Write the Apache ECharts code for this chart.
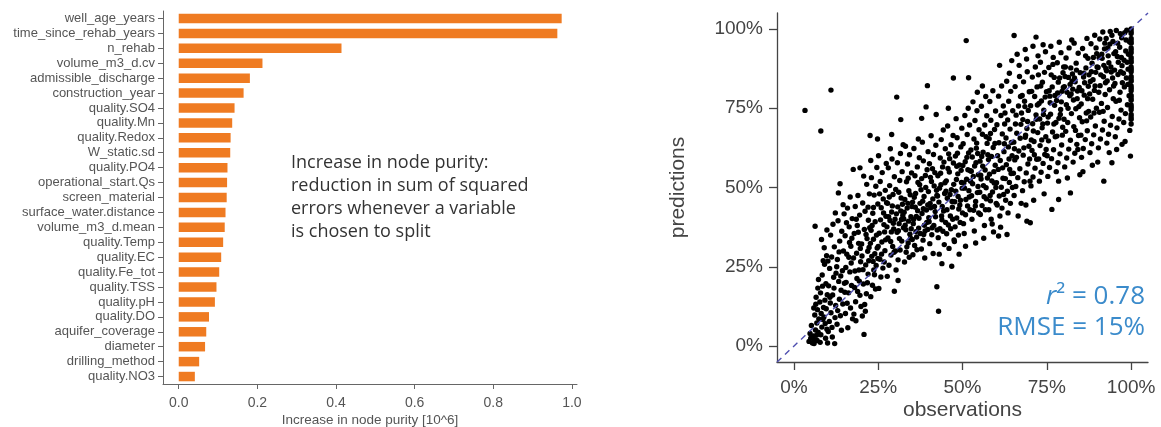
<!DOCTYPE html>
<html>
<head>
<meta charset="utf-8">
<script src="https://cdn.jsdelivr.net/npm/echarts@6/dist/echarts.min.js"></script>
<style>
html,body{margin:0;padding:0;background:#fff;}
#c{width:1161px;height:427px;}
</style>
</head>
<body>
<div id="c"></div>
<script>
// ---- left panel: variable importance ----
const categories = ['well_age_years','time_since_rehab_years','n_rehab','volume_m3_d.cv','admissible_discharge','construction_year','quality.SO4','quality.Mn','quality.Redox','W_static.sd','quality.PO4','operational_start.Qs','screen_material','surface_water.distance','volume_m3_d.mean','quality.Temp','quality.EC','quality.Fe_tot','quality.TSS','quality.pH','quality.DO','aquifer_coverage','diameter','drilling_method','quality.NO3'];
const purity = [0.974,0.963,0.414,0.213,0.181,0.165,0.142,0.136,0.132,0.131,0.124,0.123,0.122,0.119,0.117,0.113,0.108,0.103,0.096,0.092,0.077,0.070,0.067,0.052,0.041];
const purityTicks = [0,0.2,0.4,0.6,0.8,1.0];
const purityTitle = 'Increase in node purity [10^6]';
const annotationLines = ['Increase in node purity:','reduction in sum of squared','errors whenever a variable','is chosen to split'];

// ---- right panel: observations vs predictions (percent) ----
const pctTicks = [0,25,50,75,100];
const pctMin = -5, pctMax = 105;
const metricLines = ['r² = 0.78','RMSE = 15%'];
const scatterPoints = [
[3.3,74.3],[4.5,1.5],[5.0,2.5],[5.5,1.0],[4.8,4.0],[5.8,3.2],[5.2,6.5],[6.0,0.8],
[6.1,2.0],[6.4,5.1],[6.8,7.3],[6.2,9.8],[7.0,11.5],[6.5,13.2],[7.2,4.4],[6.9,1.8],[7.4,8.6],[6.6,15.4],[7.1,18.3],[6.3,37.8],[7.3,21.0],[5.9,12.0],[6.7,3.4],
[7.8,1.2],[8.0,3.6],[8.3,6.0],[8.6,8.4],[8.1,10.3],[8.8,12.2],[9.2,14.5],[7.9,16.8],[9.5,19.7],[8.4,22.4],[9.1,25.8],[9.7,28.5],[8.2,33.6],[8.0,67.8],[9.4,2.5],[9.8,5.3],[8.9,9.2],[9.6,11.8],[7.7,13.9],[9.9,16.2],[8.5,18.9],[9.3,7.1],[10.0,1.0],[9.0,31.0],[9.8,36.6],[8.7,26.9],
[10.2,4.6],[10.5,7.8],[11.0,10.5],[10.8,13.6],[11.5,16.1],[10.3,19.0],[11.8,21.7],[10.6,24.5],[11.2,28.1],[12.0,31.3],[10.9,35.0],[11.6,38.4],[12.3,42.0],[11.0,80.7],[12.2,9.0],[11.4,2.9],[12.4,12.8],[10.1,26.8],[11.9,18.3],[12.1,0.8],[10.7,15.4],[11.3,5.9],[12.5,23.0],
[12.8,6.9],[13.2,48.3],[13.7,51.2],[13.0,11.2],[13.5,14.8],[14.0,17.6],[13.3,20.4],[14.4,23.8],[12.9,27.3],[14.7,30.0],[13.6,33.1],[14.2,36.2],[13.1,39.5],[14.9,41.7],[13.8,9.6],[14.5,13.3],[12.7,25.0],[14.1,5.0],[13.4,29.7],[15.0,19.8],[14.6,44.6],[13.9,22.1],
[15.3,10.3],[15.8,13.5],[16.2,16.8],[15.5,20.1],[16.6,23.4],[17.0,26.2],[15.7,29.0],[16.9,31.5],[15.2,34.8],[16.4,37.6],[17.3,40.2],[15.9,43.5],[16.7,47.0],[17.4,8.6],[16.0,5.8],[15.4,24.8],[17.1,19.1],[16.3,28.0],[15.6,38.9],[17.2,34.0],[16.8,12.0],[15.1,17.0],[16.5,32.7],
[17.6,55.7],[19.6,56.2],[17.8,10.1],[18.3,14.0],[18.9,17.2],[19.4,20.5],[18.1,23.7],[19.8,26.6],[18.6,29.3],[19.2,32.4],[17.9,35.5],[18.8,38.0],[19.5,41.3],[18.2,44.0],[19.0,47.5],[19.9,12.5],[18.4,8.0],[17.7,27.8],[19.3,24.0],[18.7,21.3],[19.7,30.8],[18.0,18.5],[19.1,35.9],[18.5,40.0],[19.6,16.0],
[20.8,3.7],[20.3,9.5],[21.0,13.1],[21.5,16.5],[20.6,19.6],[22.0,22.7],[21.3,25.6],[20.2,28.4],[22.3,31.1],[21.7,33.9],[20.9,36.8],[22.1,39.7],[21.1,42.5],[20.4,45.1],[22.4,48.0],[21.6,51.0],[20.7,53.6],[22.2,26.9],[21.9,29.9],[20.5,24.1],[21.4,35.2],[22.5,37.3],[21.8,20.0],[20.1,32.2],[22.6,66.4],[21.2,11.0],[22.0,43.8],
[22.8,15.6],[23.3,19.2],[23.9,22.5],[24.4,25.4],[23.1,28.3],[24.7,30.9],[23.6,33.7],[22.9,36.5],[24.1,39.2],[23.4,41.9],[24.9,44.8],[23.8,47.6],[24.3,50.4],[23.0,53.1],[24.6,56.3],[24.8,65.3],[23.5,26.7],[24.0,29.1],[22.7,32.4],[24.5,35.0],[23.2,38.0],[23.7,24.0],[24.2,18.0],[23.6,43.7],[24.9,27.6],[22.8,58.5],
[25.2,18.2],[25.8,21.8],[26.4,24.6],[25.5,27.4],[27.0,30.1],[26.1,32.8],[25.3,35.6],[26.7,38.3],[27.3,40.9],[25.9,43.6],[26.5,46.4],[27.1,49.1],[25.6,51.9],[26.2,54.7],[27.4,57.6],[25.1,60.0],[26.9,36.0],[25.7,39.8],[27.2,33.5],[26.0,29.0],[26.6,42.0],[27.5,45.2],[25.4,48.0],[26.8,26.5],[25.0,31.4],
[27.7,22.0],[28.2,25.5],[28.8,28.7],[29.3,31.4],[27.9,34.1],[29.6,36.9],[28.5,39.6],[29.0,42.3],[27.8,45.0],[29.4,47.8],[28.4,50.6],[29.8,53.4],[28.0,56.2],[29.1,59.0],[28.6,62.2],[29.0,66.7],[29.8,17.3],[28.9,36.0],[29.5,38.7],[28.1,40.8],[29.2,44.2],[27.6,37.6],[28.7,33.0],[30.0,40.0],[28.3,47.0],[29.7,29.6],
[30.5,78.5],[31.7,71.4],[30.3,24.0],[30.9,27.2],[31.5,30.3],[32.0,33.1],[30.6,35.9],[31.2,38.6],[32.3,41.2],[30.8,43.9],[31.8,46.7],[30.2,49.4],[31.4,52.2],[32.1,55.0],[30.7,57.8],[31.6,60.7],[32.4,63.5],[31.0,36.4],[31.9,39.9],[30.4,41.7],[32.2,44.7],[31.3,33.9],[30.1,30.0],[32.5,37.3],[31.1,48.5],[30.9,20.7],[31.7,42.6],
[32.8,26.5],[33.3,29.6],[33.9,32.5],[34.4,35.3],[33.0,38.1],[34.7,40.8],[33.6,43.5],[32.9,46.2],[34.1,49.0],[33.4,51.8],[34.9,54.6],[33.7,57.4],[34.3,60.3],[33.1,63.0],[34.6,34.0],[33.2,36.7],[34.0,39.4],[32.7,42.2],[33.8,45.0],[34.5,47.7],[33.5,31.3],[34.8,37.0],[32.6,40.1],[34.2,28.0],[33.9,52.9],[35.0,44.0],
[35.3,28.8],[35.8,31.7],[36.4,34.4],[37.0,37.2],[35.5,39.9],[36.7,42.7],[35.2,45.4],[36.1,48.1],[37.3,50.9],[35.9,53.7],[36.6,56.5],[37.2,59.4],[35.6,62.3],[36.9,65.3],[37.9,71.8],[36.2,36.1],[35.4,38.6],[37.1,40.3],[36.0,43.8],[35.7,46.9],[37.4,45.0],[36.5,30.4],[35.1,33.6],[36.8,51.6],[37.5,35.5],[36.3,40.9],
[37.8,30.6],[38.3,33.4],[38.9,36.3],[39.4,39.0],[38.0,41.8],[39.7,44.5],[38.6,47.2],[39.1,50.0],[37.9,52.8],[39.5,55.6],[38.4,58.4],[39.8,61.3],[38.1,64.3],[39.6,82.1],[39.2,75.4],[38.7,38.1],[39.3,42.9],[38.2,45.7],[39.9,48.7],[38.5,35.2],[39.0,53.8],[37.7,49.3],[38.8,27.8],[40.0,40.5],[38.4,43.3],[39.7,36.8],
[40.3,32.3],[40.9,35.1],[41.5,38.0],[42.0,40.8],[40.6,43.6],[41.2,46.4],[42.3,49.1],[40.8,51.9],[41.8,54.7],[40.2,57.5],[41.4,60.4],[42.1,63.3],[40.7,66.3],[42.2,73.0],[42.4,18.7],[41.0,37.3],[41.9,42.4],[40.4,45.0],[42.4,47.5],[41.6,50.5],[40.1,39.2],[41.3,29.2],[42.5,36.6],[40.5,53.2],[41.7,44.0],[41.1,55.9],
[42.9,11.0],[42.8,34.2],[43.3,37.0],[43.9,39.8],[44.4,42.6],[43.0,45.4],[44.7,48.1],[43.6,50.9],[42.7,53.7],[44.1,56.5],[43.4,59.3],[44.9,62.2],[43.7,65.1],[44.3,68.1],[43.1,29.0],[44.6,32.0],[43.8,41.0],[44.0,44.0],[42.6,47.3],[44.8,51.5],[43.5,54.5],[44.2,36.2],[43.2,49.8],[45.0,39.0],[43.9,26.0],[44.5,58.0],
[45.3,35.4],[45.8,38.2],[46.4,41.0],[47.0,43.8],[45.5,46.6],[46.7,49.3],[45.2,52.1],[46.1,54.9],[47.3,57.7],[45.9,60.6],[46.6,63.5],[47.2,66.4],[45.6,69.4],[46.8,25.2],[47.3,84.5],[46.0,30.8],[45.4,43.0],[46.9,45.6],[47.4,51.0],[46.3,47.8],[45.7,56.0],[47.1,40.0],[46.5,37.0],[45.1,48.8],[47.5,33.5],[46.2,59.1],[45.8,75.0],
[47.8,37.6],[48.3,40.4],[48.9,43.2],[49.4,46.0],[48.0,48.8],[49.7,51.6],[48.6,54.3],[49.1,57.1],[47.9,59.9],[49.5,62.8],[48.4,65.7],[49.8,68.7],[48.1,71.7],[49.2,44.5],[48.7,47.2],[49.9,49.8],[48.2,52.5],[49.6,55.4],[47.7,45.5],[48.8,35.0],[49.3,39.0],[48.5,60.8],[50.0,42.0],[47.6,33.0],[49.0,29.0],[48.3,56.7],
[50.3,38.6],[50.9,41.4],[51.5,44.2],[52.0,47.0],[50.6,49.8],[51.2,52.6],[52.3,55.3],[50.8,58.1],[51.8,60.9],[50.2,63.8],[51.4,66.7],[52.1,69.7],[50.7,72.7],[51.1,96.3],[51.8,84.6],[51.0,46.2],[51.9,49.0],[50.4,51.4],[52.4,52.0],[51.6,55.6],[50.1,56.9],[51.3,59.5],[52.2,43.0],[50.5,35.5],[51.7,75.0],[52.5,61.8],[50.9,31.5],
[52.8,40.0],[53.3,42.8],[53.9,45.6],[54.4,48.4],[53.0,51.2],[54.7,54.0],[53.6,56.8],[52.9,59.6],[54.1,62.4],[53.4,65.3],[54.9,68.2],[53.7,71.1],[54.3,74.2],[53.1,77.0],[54.6,50.3],[53.2,53.5],[54.0,57.8],[52.7,47.4],[53.8,44.2],[54.5,60.7],[53.5,36.3],[54.2,64.0],[52.6,55.1],[54.8,42.0],[53.9,32.5],[54.4,80.0],
[55.3,41.5],[55.8,44.3],[56.4,47.1],[57.0,49.9],[55.5,52.7],[56.7,55.5],[55.2,58.3],[56.1,61.1],[57.3,63.9],[55.9,66.8],[56.6,69.7],[57.2,72.6],[55.6,75.6],[56.9,78.7],[56.2,50.6],[55.4,53.9],[57.1,46.4],[56.0,56.7],[55.7,59.8],[57.4,53.0],[56.5,38.0],[55.1,48.5],[56.8,43.0],[57.5,60.3],[56.3,34.0],[55.9,82.0],[57.0,66.0],
[57.8,43.0],[58.3,45.8],[58.9,48.6],[59.4,51.4],[58.0,54.2],[59.7,57.0],[58.6,59.8],[59.1,62.6],[57.9,65.4],[59.5,68.3],[58.4,71.2],[59.8,74.1],[58.1,77.1],[59.2,36.0],[58.7,52.1],[59.3,55.0],[58.2,47.5],[59.9,50.0],[58.5,40.0],[59.0,80.5],[57.7,58.8],[59.6,63.9],[58.8,38.5],[60.0,45.0],[58.3,67.0],
[60.7,34.7],[60.3,44.5],[60.9,47.3],[61.5,50.1],[62.0,52.9],[60.6,55.7],[61.2,58.5],[62.3,61.3],[60.8,64.1],[61.8,66.9],[60.2,69.8],[61.4,72.7],[62.1,75.7],[60.7,78.8],[61.6,82.0],[61.0,88.5],[61.9,56.2],[60.4,60.0],[62.4,63.8],[61.1,41.0],[62.2,47.8],[60.1,51.5],[61.7,43.5],[62.5,70.0],[61.3,37.5],
[63.2,35.2],[62.8,46.0],[63.3,48.8],[63.9,51.6],[64.4,54.4],[63.0,57.2],[64.7,60.0],[63.6,62.8],[62.9,65.6],[64.1,68.4],[63.4,71.3],[64.9,74.2],[63.7,77.2],[64.3,80.3],[63.1,83.5],[64.6,90.0],[63.8,59.0],[64.0,55.7],[62.7,52.8],[64.5,64.2],[63.5,42.0],[64.8,50.0],[63.9,86.0],[62.6,73.5],[64.2,45.0],
[65.3,97.9],[65.3,47.5],[65.8,50.3],[66.4,53.1],[67.0,55.9],[65.5,58.7],[66.7,61.5],[65.2,64.3],[66.1,67.1],[67.3,69.9],[65.9,72.8],[66.6,75.7],[67.2,78.7],[65.6,81.8],[66.9,85.0],[66.2,92.0],[65.4,62.2],[67.1,65.5],[66.0,59.5],[65.7,70.0],[67.4,45.0],[66.5,41.0],[65.1,54.5],[66.8,88.5],[67.5,73.5],
[69.1,39.4],[70.1,38.9],[67.8,49.0],[68.3,51.8],[68.9,54.6],[69.4,57.4],[68.0,60.2],[69.7,63.0],[68.6,65.8],[69.1,68.6],[67.9,71.4],[69.5,74.3],[68.4,77.2],[69.8,80.2],[68.1,83.3],[69.2,86.5],[68.7,66.5],[69.3,70.8],[68.2,62.5],[69.9,59.0],[68.5,75.5],[67.7,79.0],[69.0,90.5],[68.8,44.5],[70.0,52.0],[68.6,93.5],
[71.8,97.4],[70.3,50.5],[70.9,53.3],[71.5,56.1],[72.0,58.9],[70.6,61.7],[71.2,64.5],[72.3,67.3],[70.8,70.1],[71.8,72.9],[70.2,75.8],[71.4,78.7],[72.1,81.7],[70.7,84.8],[71.6,88.0],[72.4,91.5],[71.0,67.8],[71.9,71.5],[70.4,65.0],[72.2,76.0],[71.3,60.3],[70.5,80.3],[72.5,85.5],[71.1,46.0],[70.9,94.5],
[72.8,52.0],[73.3,54.8],[73.9,57.6],[74.4,60.4],[73.0,63.2],[74.7,66.0],[73.6,68.8],[72.9,71.6],[74.1,74.4],[73.4,77.3],[74.9,80.2],[73.7,83.2],[74.3,86.3],[73.1,89.5],[74.6,92.8],[73.8,70.0],[74.0,73.0],[72.7,76.5],[74.5,78.5],[73.5,65.0],[74.8,62.0],[73.2,82.0],[74.2,48.0],[72.6,59.0],[73.9,95.0],
[76.5,43.1],[75.3,53.5],[75.8,56.3],[76.4,59.1],[77.0,61.9],[75.5,64.7],[76.7,67.5],[75.2,70.3],[76.1,73.1],[77.3,75.9],[75.9,78.8],[76.6,81.7],[77.2,84.7],[75.6,87.8],[76.9,91.0],[76.2,94.5],[75.4,72.2],[77.1,70.0],[76.0,76.7],[75.7,80.5],[77.4,79.0],[76.3,85.5],[75.1,60.0],[77.5,66.0],[76.8,88.8],
[78.5,46.2],[77.8,55.0],[78.3,57.8],[78.9,60.6],[79.4,63.4],[78.0,66.2],[79.7,69.0],[78.6,71.8],[79.1,74.6],[77.9,77.4],[79.5,80.3],[78.4,83.2],[79.8,86.2],[78.1,89.3],[79.2,92.5],[78.7,95.8],[79.3,77.0],[78.2,79.8],[79.9,81.5],[78.8,84.5],[79.0,73.0],[77.7,70.5],[79.6,66.5],[78.5,52.0],[80.0,88.0],
[82.0,48.3],[80.3,56.5],[80.9,59.3],[81.5,62.1],[82.0,64.9],[80.6,67.7],[81.2,70.5],[82.3,73.3],[80.8,76.1],[81.8,78.9],[80.2,81.8],[81.4,84.7],[82.1,87.7],[80.7,90.8],[81.6,94.0],[82.4,96.5],[81.0,80.0],[81.9,82.5],[80.4,85.0],[82.2,79.5],[81.3,75.0],[80.1,71.5],[82.5,83.5],[81.1,53.0],[80.5,88.0],
[82.8,58.0],[83.3,60.8],[83.9,63.6],[84.4,66.4],[83.0,69.2],[84.7,72.0],[83.6,74.8],[82.9,77.6],[84.1,80.4],[83.4,83.3],[84.9,86.2],[83.7,89.2],[84.3,92.3],[83.1,95.5],[84.6,81.5],[83.2,84.5],[84.0,78.0],[82.7,81.0],[84.5,75.5],[83.8,87.0],[84.8,54.0],[83.5,68.0],[82.6,85.8],[84.2,62.0],
[85.3,59.5],[85.8,62.3],[86.4,65.1],[87.0,67.9],[85.5,70.7],[86.7,73.5],[85.2,76.3],[86.1,79.1],[87.3,81.9],[85.9,84.8],[86.6,87.7],[87.2,90.7],[85.6,93.8],[86.9,97.0],[86.2,83.0],[85.4,80.5],[87.1,78.0],[86.0,86.0],[85.7,55.0],[87.4,74.0],[86.5,91.5],[85.1,66.5],[86.8,71.0],[87.5,85.5],
[87.8,61.0],[88.3,63.8],[88.9,66.6],[89.4,69.4],[88.0,72.2],[89.7,75.0],[88.6,77.8],[89.1,80.6],[87.9,83.4],[89.5,86.3],[88.4,89.2],[89.8,92.2],[88.1,95.3],[89.2,98.0],[88.7,84.0],[89.3,82.0],[88.2,86.5],[89.9,88.0],[88.5,57.0],[89.0,73.5],[87.7,79.5],[89.6,94.0],[88.8,91.0],
[91.9,52.0],[90.3,62.5],[90.9,65.3],[91.5,68.1],[92.0,70.9],[90.6,73.7],[91.2,76.5],[92.3,79.3],[90.8,82.1],[91.8,84.9],[90.2,87.8],[91.4,90.7],[92.1,93.7],[90.7,96.8],[91.6,99.0],[91.0,85.5],[91.9,88.5],[90.4,80.0],[92.4,83.0],[91.3,92.0],[90.1,58.0],[92.2,95.5],[91.7,74.0],[90.5,91.0],[92.5,87.5],
[94.3,57.8],[92.8,64.0],[93.3,66.8],[93.9,69.6],[94.4,72.4],[93.0,75.2],[94.7,78.0],[93.6,80.8],[92.9,83.6],[94.1,86.4],[93.4,89.3],[94.9,92.2],[93.7,95.2],[94.3,98.0],[93.1,94.0],[94.6,96.0],[93.2,91.5],[94.0,88.0],[92.7,86.8],[94.5,84.5],[93.8,99.2],[93.5,61.0],[94.8,82.0],[92.6,97.0],
[97.3,63.6],[95.3,66.0],[95.8,68.8],[96.4,71.6],[97.0,74.4],[95.5,77.2],[96.7,80.0],[95.2,82.8],[96.1,85.6],[97.3,88.4],[95.9,91.3],[96.6,94.2],[97.2,97.2],[95.6,99.5],[96.9,86.5],[96.2,89.5],[95.4,92.8],[97.1,91.0],[96.0,95.5],[95.7,62.0],[97.4,83.0],[96.5,77.5],[95.1,87.0],[96.8,98.5],
[99.8,59.9],[97.8,70.5],[98.3,73.3],[98.9,76.1],[99.4,78.9],[98.0,81.7],[98.6,84.5],[99.1,87.3],[97.9,90.1],[98.4,93.0],[99.5,95.9],[98.1,98.8],[98.8,89.5],[99.2,92.0],[98.5,96.5],[97.7,86.0],[99.0,82.5],[98.2,64.5],[99.6,68.0],[98.7,99.6],
[100,70],[100,71.5],[100,73],[100,74.5],[100,76],[100,77.5],[100,79],[100,80.5],[100,82],[100,83.5],[100,85],[100,86.5],[100,88],[100,89.5],[100,91],[100,92.5],[100,94],[100,95.5],[100,97],[100,98.5],[100,100],[100,99.2],[100,96.2],[100,93.3],[100,90.2],[100,87.3],[100,84.2],[100,81.3],[100,78.2],[100,75.3],[100,72.2]
];

const axisFont = 'Liberation Sans';
const chart = echarts.init(document.getElementById('c'), null, {renderer: 'canvas'});
chart.setOption({
  animation: false,
  backgroundColor: '#ffffff',
  grid: [
    {left: 163, top: 11, width: 414, height: 373, outerBoundsMode: 'none', containLabel: false},
    {left: 777, top: 13, width: 371, height: 349, outerBoundsMode: 'none', containLabel: false}
  ],
  xAxis: [
    {
      gridIndex: 0, type: 'value', min: -0.04, max: 1.013,
      axisLine: {show: true, onZero: false, lineStyle: {color: '#666', width: 1}},
      axisTick: {show: true, customValues: purityTicks, length: 5, lineStyle: {color: '#666'}},
      axisLabel: {customValues: purityTicks, formatter: v => v.toFixed(1), fontSize: 14, color: '#555', margin: 12, fontFamily: axisFont},
      splitLine: {show: false},
      name: purityTitle, nameLocation: 'middle', nameGap: 29, nameMoveOverlap: false,
      nameTextStyle: {fontSize: 13.5, color: '#555', fontFamily: axisFont}
    },
    {
      gridIndex: 1, type: 'value', min: pctMin, max: pctMax,
      axisLine: {show: true, onZero: false, lineStyle: {color: '#444', width: 1.3}},
      axisTick: {show: true, customValues: pctTicks, length: 8, lineStyle: {color: '#444', width: 1.3}},
      axisLabel: {customValues: pctTicks, formatter: v => v + '%', fontSize: 19, color: '#444', margin: 16, fontFamily: axisFont},
      splitLine: {show: false},
      name: 'observations', nameLocation: 'middle', nameGap: 38, nameMoveOverlap: false,
      nameTextStyle: {fontSize: 21, color: '#444', fontFamily: axisFont}
    }
  ],
  yAxis: [
    {
      gridIndex: 0, type: 'category', data: categories, inverse: true,
      axisLine: {show: true, onZero: false, lineStyle: {color: '#666', width: 1}},
      axisTick: {show: true, alignWithLabel: true, length: 5, lineStyle: {color: '#666'}},
      axisLabel: {fontSize: 13, color: '#555', margin: 8, fontFamily: axisFont, interval: 0},
      splitLine: {show: false}
    },
    {
      gridIndex: 1, type: 'value', min: pctMin, max: pctMax,
      axisLine: {show: true, onZero: false, lineStyle: {color: '#444', width: 1.3}},
      axisTick: {show: true, customValues: pctTicks, length: 8, lineStyle: {color: '#444', width: 1.3}},
      axisLabel: {customValues: pctTicks, formatter: v => v + '%', fontSize: 19, color: '#444', margin: 14, fontFamily: axisFont},
      splitLine: {show: false},
      name: 'predictions', nameLocation: 'middle', nameGap: 88, nameRotate: 90, nameMoveOverlap: false,
      nameTextStyle: {fontSize: 21, color: '#444', fontFamily: axisFont}
    }
  ],
  series: [
    {
      type: 'bar', xAxisIndex: 0, yAxisIndex: 0, data: purity, barWidth: 9.5,
      itemStyle: {color: '#ef7b22'}, silent: true
    },
    {
      type: 'scatter', xAxisIndex: 1, yAxisIndex: 1, data: scatterPoints,
      symbolSize: 5.4, itemStyle: {color: '#000', opacity: 1}, silent: true,
      markLine: {
        silent: true, symbol: 'none', label: {show: false}, z: 5,
        lineStyle: {type: [6, 5], color: '#4f4fb0', width: 1.4},
        data: [[{coord: [pctMin, pctMin]}, {coord: [pctMax, pctMax]}]]
      }
    }
  ],
  graphic: [
    {
      type: 'text', x: 291, y: 152,
      style: {text: annotationLines.join('\n'), font: '18px "Open Sans"', fill: '#333', lineHeight: 22.7}
    },
    {
      type: 'text', x: 1145, y: 297,
      style: {
        text: '{i|r}{n|' + metricLines[0].slice(1) + '}',
        align: 'right', verticalAlign: 'middle',
        rich: {
          i: {font: 'italic 26px "Open Sans"', fill: '#3b8bcb'},
          n: {font: '26px "Open Sans"', fill: '#3b8bcb'}
        }
      }
    },
    {
      type: 'text', x: 1145, y: 328,
      style: {text: metricLines[1], font: '26px "Open Sans"', fill: '#3b8bcb', align: 'right', verticalAlign: 'middle'}
    }
  ]
});
</script>
</body>
</html>
